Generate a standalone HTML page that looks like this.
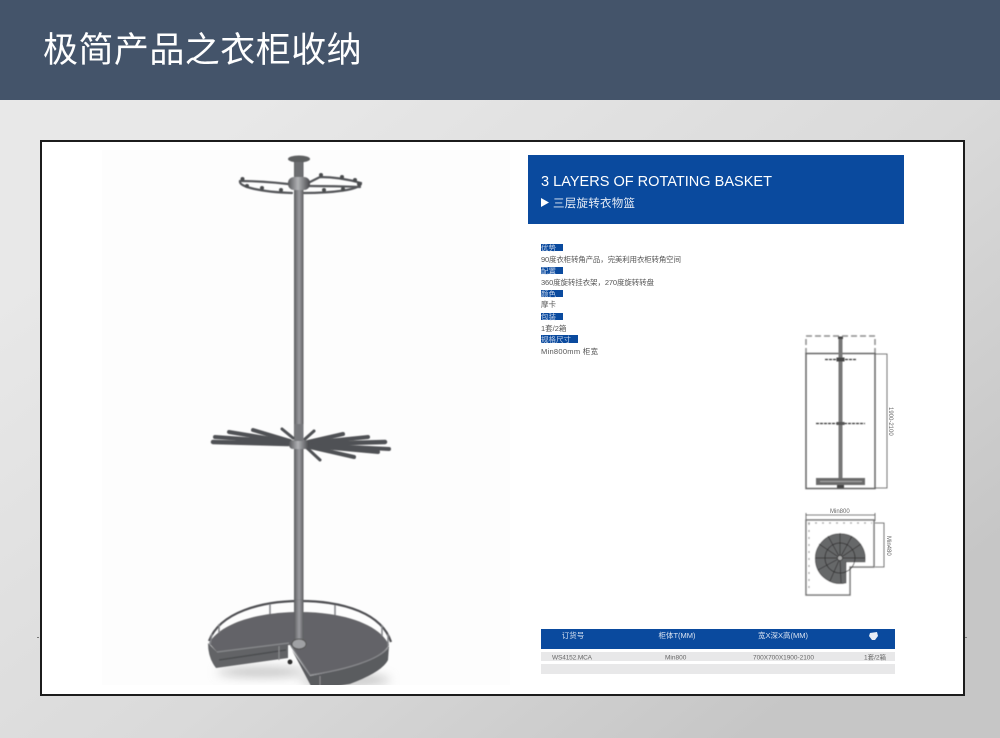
<!DOCTYPE html>
<html lang="zh"><head><meta charset="utf-8"><style>
html,body{margin:0;padding:0;width:1000px;height:738px;overflow:hidden;background:#e0e0e0}
svg{display:block}
text{font-family:"Liberation Sans","Noto Sans CJK SC",sans-serif}
</style></head><body>
<svg width="1000" height="738" viewBox="0 0 1000 738" xmlns="http://www.w3.org/2000/svg">
<defs>
<linearGradient id="bg" gradientUnits="userSpaceOnUse" x1="250" y1="100" x2="750" y2="738">
<stop offset="0" stop-color="#e8e8e8"/><stop offset=".55" stop-color="#dadada"/><stop offset="1" stop-color="#c6c6c6"/></linearGradient>
<linearGradient id="pole" x1="0" y1="0" x2="1" y2="0"><stop offset="0" stop-color="#5a5b5e"/><stop offset=".35" stop-color="#86878a"/><stop offset=".55" stop-color="#9a9b9f"/><stop offset="1" stop-color="#5c5d60"/></linearGradient>
<linearGradient id="hub" x1="0" y1="0" x2="1" y2="0"><stop offset="0" stop-color="#56575a"/><stop offset=".45" stop-color="#b0b1b4"/><stop offset="1" stop-color="#47484b"/></linearGradient>
<filter id="soft" x="-5%" y="-5%" width="110%" height="110%"><feGaussianBlur stdDeviation=".45"/></filter>
<filter id="shadow" x="-30%" y="-80%" width="160%" height="260%"><feGaussianBlur stdDeviation="5"/></filter>
<clipPath id="photo"><rect x="102" y="150" width="408" height="535"/></clipPath>
</defs>
<rect width="1000" height="738" fill="url(#bg)"/>
<rect width="1000" height="100" fill="#44546a"/>
<text x="43" y="62" font-size="35" letter-spacing=".45" fill="#fff">极简产品之衣柜收纳</text>
<rect x="41" y="141" width="923" height="554" fill="#fff" stroke="#1c1c1c" stroke-width="2"/>
<rect x="102" y="150" width="408" height="535" fill="#fdfdfd"/>

<g clip-path="url(#photo)"><g filter="url(#soft)">
<!-- top rack -->
<g fill="none" stroke-linecap="round" stroke="#55565a" stroke-width="2.200">
<path d="M240 181 C238 187 262 192 292 193 M361 183 C362 190 330 193 304 193"/>
<path d="M240 181 Q262 181 288 184 M361 183 Q340 177 320 177 L308 183 M308 186 Q335 186 360 187"/>
</g>
<g fill="#4a4b4e"><circle cx="242.500" cy="179" r="2"/><circle cx="247" cy="186" r="2"/><circle cx="262" cy="188" r="2"/><circle cx="281" cy="190" r="2"/><circle cx="321" cy="175" r="2"/><circle cx="342" cy="177" r="2"/><circle cx="355" cy="180" r="2"/><circle cx="359" cy="184" r="2"/><circle cx="324" cy="190" r="2"/><circle cx="343" cy="189" r="2"/></g>

<!-- shadow + base sides -->
<ellipse cx="262" cy="672" rx="45" ry="5" fill="#c4c4c4" filter="url(#shadow)"/>
<ellipse cx="345" cy="680" rx="45" ry="6" fill="#c4c4c4" filter="url(#shadow)"/>
<!-- pole -->
<rect x="294" y="160" width="9.500" height="440" fill="url(#pole)"/>
<ellipse cx="299" cy="159" rx="11" ry="3.500" fill="#5d5e61"/>
<rect x="295" y="162" width="7" height="15" fill="#6d6e71"/>
<rect x="288" y="177" width="22" height="13" rx="6" fill="url(#hub)"/>

<!-- middle rack -->
<g stroke="#505154" stroke-linecap="round" fill="none">
<path d="M213 442 L288 444" stroke-width="4.500"/>
<path d="M215 437 L288 442" stroke-width="4"/>
<path d="M229 432 L290 442" stroke-width="4"/>
<path d="M253 430 L290 441" stroke-width="4"/>
<path d="M282 429 L293 438" stroke-width="3"/>
<path d="M314 431 L305 439" stroke-width="3"/>
<path d="M343 434 L308 442" stroke-width="4"/>
<path d="M368 437 L308 443" stroke-width="4"/>
<path d="M385 442 L308 444" stroke-width="4.500"/>
<path d="M389 449 L308 445" stroke-width="4"/>
<path d="M378 452 L310 446" stroke-width="4"/>
<path d="M354 457 L310 447" stroke-width="4"/>
<path d="M320 460 L306 447" stroke-width="3"/>
</g>
<rect x="289" y="440" width="20" height="9" rx="4" fill="url(#hub)"/>
<rect x="294.500" y="424" width="9" height="17" fill="#77787c"/>

<!-- base -->
<path d="M208 643 Q208 658 216 668 L288 658 L288 643 L217 652 Z" fill="#626366"/>
<path d="M219 660 L286 650" stroke="#4c4d50" stroke-width="1.500" fill="none"/>
<path d="M279 645 V660" stroke="#8a8b8e" stroke-width="1.200"/>
<circle cx="290" cy="662" r="2.500" fill="#2e2e2e"/>
<path d="M292 650 L313 690 L350 684 Q382 672 388 660 L389 646 Q375 664 310 676 Z" fill="#5a5b5e"/>
<path d="M320 676 V686" stroke="#8a8b8e" stroke-width="1.200"/>
<path d="M209 643 C222 622 260 612 300 612 C345 612 380 625 389 645 C380 660 345 670 310 675 L290 645 L217 652 Z" fill="#646467"/>
<path d="M217 652 L289 643 M291 646 L310 675 C345 670 378 660 388 648" stroke="#87888c" stroke-width="1.200" fill="none"/>
<path d="M209 641 C220 612 262 601 300 601 C345 601 382 614 391 642" fill="none" stroke="#4f5053" stroke-width="2.200"/>
<path d="M219 624 L219 633 M270 604 L270 614 M335 605 L335 615 M382 625 L382 636 M388 634 L388 646 M212 634 L210 645" stroke="#828387" stroke-width="1.500"/>
<rect x="294" y="600" width="9.500" height="42" fill="url(#pole)"/>
<ellipse cx="299" cy="644" rx="7" ry="5" fill="#a0a1a4" stroke="#555" stroke-width="1"/>
</g></g>

<!-- blue header -->
<rect x="528" y="155" width="376" height="69" fill="#0a4a9e"/>
<text x="541" y="186" font-size="15" fill="#fff" textLength="231" lengthAdjust="spacingAndGlyphs">3 LAYERS OF ROTATING BASKET</text>
<path d="M541 198 L549 202.500 L541 207 Z" fill="#fff"/>
<text x="553" y="207" font-size="11.500" fill="#e6ecf6" textLength="82" lengthAdjust="spacing">三层旋转衣物篮</text>

<!-- spec -->
<g fill="#0a4a9e">
<rect x="541" y="244" width="22" height="7"/><rect x="541" y="267" width="22" height="7"/><rect x="541" y="290" width="22" height="7"/><rect x="541" y="313" width="22" height="7"/><rect x="541" y="335" width="37" height="8"/>
</g>
<g font-size="7.500" fill="#c4d3ea">
<text x="541" y="250.500">优势</text><text x="541" y="273.500">配置</text><text x="541" y="296.500">颜色</text><text x="541" y="319.500">包装</text><text x="541" y="342">规格尺寸</text>
</g>
<g font-size="7.500" fill="#555">
<text x="541" y="262" textLength="140" lengthAdjust="spacing">90度衣柜转角产品，完美利用衣柜转角空间</text>
<text x="541" y="285" textLength="113" lengthAdjust="spacing">360度旋转挂衣架，270度旋转转盘</text>
<text x="541" y="307">摩卡</text>
<text x="541" y="331">1套/2箱</text>
<text x="541" y="354" textLength="57" lengthAdjust="spacing">Min800mm 柜宽</text>
</g>

<!-- elevation drawing -->
<g filter="url(#soft)">
<path d="M806 354 L806 336 L875 336 L875 354" fill="none" stroke="#8e8e8e" stroke-width="1.500" stroke-dasharray="6 3"/>
<rect x="806" y="353.500" width="69" height="135" fill="none" stroke="#666" stroke-width="1.500"/>
<rect x="838.500" y="337" width="4" height="150" fill="#777"/>
<rect x="838" y="336.500" width="5" height="2.500" fill="#444"/>
<path d="M825 359.500 H856 M816 423.500 H865" stroke="#333" stroke-width="1.300" stroke-dasharray="3 1"/>
<rect x="836.500" y="357.500" width="8" height="4" fill="#444"/>
<rect x="836.500" y="422" width="8" height="3" fill="#555"/>
<rect x="816" y="478" width="49" height="7" fill="#6a6a6a"/>
<path d="M820 481.500 H862" stroke="#bbb" stroke-width=".7"/>
<rect x="837" y="485" width="7" height="3" fill="#444"/>
<path d="M875 354 H887 V488 H875" fill="none" stroke="#555" stroke-width=".8"/>
</g>
<text transform="translate(889 407) rotate(90)" font-size="6" fill="#666">1900-2100</text>

<!-- plan drawing -->
<g filter="url(#soft)">
<path d="M806 515 H875" stroke="#555" stroke-width=".8"/>
<path d="M806 513 V521 M875 513 V521 M875 523 H884 V567 H875" stroke="#555" stroke-width=".8" fill="none"/>
<path d="M806 520 H874 V567 H850 V595 H806 Z" fill="#fff" stroke="#777" stroke-width="1.500"/>
<path d="M808 523 H872 M809 523 V593" stroke="#999" stroke-width="1.200" stroke-dasharray="2 5" fill="none"/>
<path d="M846 562 H865 A25 25 0 1 0 846 583 Z" fill="#666769" stroke="#3c3c3c" stroke-width=".6"/>
<circle cx="840" cy="558" r="15" fill="none" stroke="#2c2c2c" stroke-width=".8"/>
<g stroke="#2c2c2c" stroke-width=".7">
<path d="M840 558 L840 533 M840 558 L828 536 M840 558 L819 544 M840 558 L815 558 M840 558 L818 570 M840 558 L830 581 M840 558 L852 536 M840 558 L861 544 M840 558 L865 558 M840 558 L841 583"/>
</g>
<circle cx="840" cy="558" r="2.500" fill="#aaa" stroke="#2c2c2c" stroke-width=".7"/>
</g>
<text x="830" y="513" font-size="6" fill="#666">Min800</text>
<text transform="translate(887 536) rotate(90)" font-size="6" fill="#666">Min480</text>

<!-- table -->
<rect x="541" y="629" width="354" height="20" fill="#0a4a9e"/>
<g font-size="7.500" fill="#dbe4f2" text-anchor="middle">
<text x="573" y="638">订货号</text>
<text x="677" y="638">柜体T(MM)</text>
<text x="783" y="638">宽X深X高(MM)</text>
</g>
<path d="M870 633 L877 632 L878 636 L875 640 H872 L869 636 Z" fill="#e8eef7"/>
<rect x="541" y="652" width="354" height="9" fill="#e8e8e9"/>
<rect x="541" y="664" width="354" height="10" fill="#e8e8e9"/>
<g font-size="6.500" fill="#666">
<text x="552" y="659.500" textLength="40" lengthAdjust="spacing">WS4152.MCA</text>
<text x="665" y="659.500">Min800</text>
<text x="753" y="659.500" textLength="61" lengthAdjust="spacing">700X700X1900-2100</text>
<text x="864" y="659.500">1套/2箱</text>
</g>
<rect x="37" y="637" width="2" height="1" fill="#777"/><rect x="965" y="637" width="2" height="1" fill="#777"/>
</svg>
</body></html>
